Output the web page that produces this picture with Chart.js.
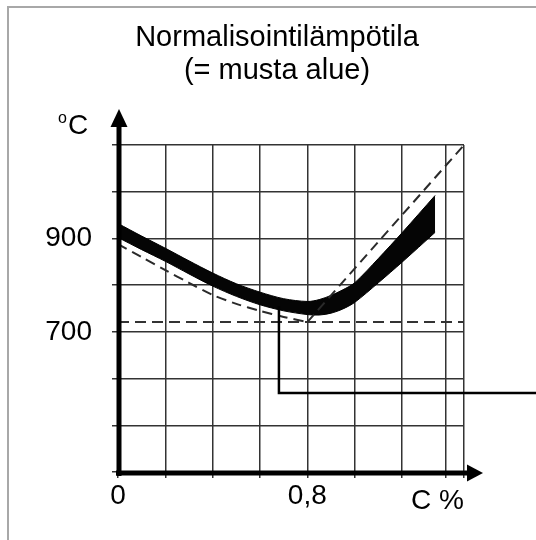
<!DOCTYPE html>
<html>
<head>
<meta charset="utf-8">
<script src="https://cdn.jsdelivr.net/npm/chart.js@4/dist/chart.umd.min.js"></script>
<style>
  html, body { margin: 0; padding: 0; background: #ffffff; }
  canvas { display: block; }
</style>
</head>
<body>
<canvas id="c" width="536" height="540"></canvas>
<script>
// ---- data ----
const titleLines = ["Normalisointilämpötila", "(= musta alue)"];
const yUnit = "C";
const xTitle = "C %";
const yTickLabels = { 900: "900", 700: "700" };
const xTickLabels = { 0: "0", 0.8: "0,8" };
const xGridValues = [0, 0.2, 0.4, 0.6, 0.8, 1.0, 1.2, 1.386, 1.462];

// normalising temperature band (black area)
const bandC     = [0,   0.1, 0.2, 0.3, 0.4, 0.5, 0.6, 0.7, 0.8, 0.85, 0.9, 0.95, 1.0, 1.1, 1.2, 1.34];
const bandUpper = [932, 905, 879, 852, 826, 803, 785, 771, 765, 769,  778, 790,  805, 857, 912, 992];
const bandLower = [902, 876, 851, 824, 798, 776, 758, 745, 737, 736,  740, 749,  763, 805, 849, 913];

// A3 line (dashed)
const a3C = [0,   0.1, 0.2, 0.3, 0.4, 0.5, 0.6, 0.7, 0.8];
const a3T = [888, 860, 832, 805, 779, 760, 745, 732, 721];
// Acm line (dashed)
const acmC = [0.8, 1.462];
const acmT = [721, 1100];
// A1 line (dashed)
const a1C = [0, 1.462];
const a1T = [721, 721];
// pointer line
const ptrC = [0.68, 0.68, 1.8];
const ptrT = [755, 569, 569];

const FONT = '"Liberation Sans", Arial, Helvetica, sans-serif';
const toPts = (xs, ys) => xs.map((x, i) => ({ x: x, y: ys[i] }));

const framePlugin = {
  id: 'frame',
  beforeDraw(chart) {
    const ctx = chart.ctx;
    ctx.save();
    ctx.fillStyle = '#ffffff';
    ctx.fillRect(0, 0, chart.width, chart.height);
    ctx.strokeStyle = '#a8a8a8';
    ctx.lineWidth = 2;
    ctx.strokeRect(8, 7, chart.width + 20, chart.height + 20);
    ctx.restore();
  }
};

const overlayPlugin = {
  id: 'overlay',
  afterDraw(chart) {
    const ctx = chart.ctx;
    const a = chart.chartArea;
    const ax = a.left + 1, ay = a.bottom + 1;
    ctx.save();
    // axes
    ctx.strokeStyle = '#000';
    ctx.fillStyle = '#000';
    ctx.lineWidth = 5;
    ctx.beginPath();
    ctx.moveTo(ax, ay + 3);
    ctx.lineTo(ax, a.top - 20);
    ctx.moveTo(ax - 3, ay);
    ctx.lineTo(a.right + 6, ay);
    ctx.stroke();
    // arrow heads
    ctx.beginPath();
    ctx.moveTo(ax, a.top - 36);
    ctx.lineTo(ax - 8.5, a.top - 18);
    ctx.lineTo(ax + 8.5, a.top - 18);
    ctx.closePath();
    ctx.fill();
    ctx.beginPath();
    ctx.moveTo(a.right + 19, ay);
    ctx.lineTo(a.right + 3, ay - 8.5);
    ctx.lineTo(a.right + 3, ay + 8.5);
    ctx.closePath();
    ctx.fill();
    // unit label
    ctx.textBaseline = 'alphabetic';
    ctx.textAlign = 'left';
    ctx.font = '16px ' + FONT;
    ctx.fillText('o', 58, 123);
    ctx.font = '28px ' + FONT;
    ctx.fillText(yUnit, 68, 134);
    // title
    ctx.textAlign = 'center';
    ctx.font = '29px ' + FONT;
    ctx.fillText(titleLines[0], 277, 46);
    ctx.fillText(titleLines[1], 277, 79);
    ctx.restore();
  }
};

new Chart(document.getElementById('c'), {
  type: 'line',
  data: {
    datasets: [
      { data: toPts(bandC, bandUpper), borderColor: '#000', borderWidth: 1, pointRadius: 0, tension: 0.3, fill: false, order: 5 },
      { data: toPts(bandC, bandLower), borderColor: '#000', borderWidth: 1, pointRadius: 0, tension: 0.3, fill: '-1', backgroundColor: '#050505', order: 5 },
      { data: toPts(a3C, a3T), borderColor: '#2a2a2a', borderWidth: 2, borderDash: [10, 6], pointRadius: 0, tension: 0.3, fill: false, order: 2 },
      { data: toPts(acmC, acmT), borderColor: '#2a2a2a', borderWidth: 2, borderDash: [10, 6], pointRadius: 0, fill: false, order: 2 },
      { data: toPts(a1C, a1T), borderColor: '#333', borderWidth: 2, borderDash: [11, 6], pointRadius: 0, fill: false, order: 2 },
      { data: toPts(ptrC, ptrT), borderColor: '#000', borderWidth: 2.5, pointRadius: 0, fill: false, clip: false, order: 1 }
    ]
  },
  options: {
    responsive: false,
    devicePixelRatio: 1,
    animation: false,
    layout: { padding: { left: 0, right: 72, top: 145, bottom: 22 } },
    plugins: { legend: { display: false }, title: { display: false }, tooltip: { enabled: false } },
    scales: {
      x: {
        type: 'linear',
        min: 0,
        max: 1.462,
        afterBuildTicks(scale) { scale.ticks = xGridValues.map(v => ({ value: v })); },
        afterFit(scale) { scale.height = 46; },
        border: { display: false },
        grid: { color: '#333', lineWidth: 1.5, tickLength: 6, drawTicks: true },
        ticks: {
          autoSkip: false, maxRotation: 0, padding: 1, color: '#000',
          font: { family: FONT, size: 28 },
          callback(v) {
            for (const k in xTickLabels) { if (Math.abs(v - Number(k)) < 1e-6) return xTickLabels[k]; }
            return '';
          }
        },
        title: { display: true, text: xTitle, align: 'end', color: '#000', font: { family: FONT, size: 28 }, padding: { top: 0, bottom: 0 } }
      },
      y: {
        type: 'linear',
        min: 400,
        max: 1100,
        afterFit(scale) { scale.width = 118; },
        border: { display: false },
        grid: { color: '#333', lineWidth: 1.5, tickLength: 6, drawTicks: true },
        ticks: {
          stepSize: 100, padding: 20, color: '#000',
          font: { family: FONT, size: 28 },
          callback(v) { return yTickLabels[v] || ''; }
        }
      }
    }
  },
  plugins: [framePlugin, overlayPlugin]
});
</script>
</body>
</html>
